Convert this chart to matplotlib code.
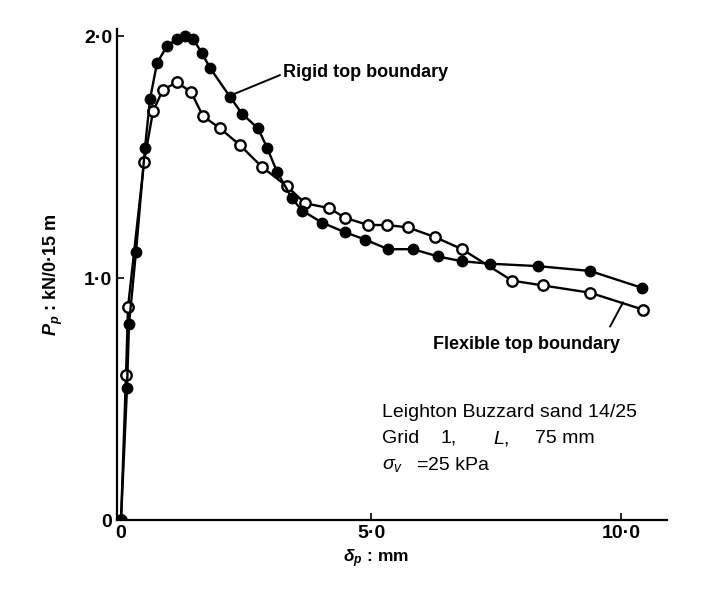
import matplotlib
matplotlib.use("Agg")
import matplotlib.pyplot as plt

plt.rcParams['font.family'] = ['Liberation Sans', 'DejaVu Sans']
plt.rcParams['mathtext.fontset'] = 'custom'
plt.rcParams['mathtext.it'] = 'Liberation Sans:italic'
plt.rcParams['mathtext.rm'] = 'Liberation Sans'
plt.rcParams['mathtext.bfit'] = 'Liberation Sans:italic:bold'

# rigid top boundary (filled markers)
rigid_x = [0, 0.12, 0.16, 0.30, 0.48, 0.58, 0.72, 0.92, 1.12, 1.28, 1.44, 1.62, 1.78,
           2.18, 2.42, 2.74, 2.92, 3.12, 3.42, 3.62, 4.02, 4.48, 4.88, 5.34, 5.84,
           6.34, 6.82, 7.38, 8.34, 9.38, 10.42]
rigid_y = [0, 0.545, 0.81, 1.11, 1.54, 1.74, 1.89, 1.96, 1.99, 2.0, 1.99, 1.93, 1.87,
           1.75, 1.68, 1.62, 1.54, 1.44, 1.33, 1.28, 1.23, 1.19, 1.16, 1.12, 1.12,
           1.09, 1.07, 1.06, 1.05, 1.03, 0.96]

# flexible top boundary (open markers)
flex_x = [0, 0.10, 0.14, 0.46, 0.64, 0.84, 1.12, 1.40, 1.64, 1.98, 2.38, 2.82, 3.32,
          3.68, 4.16, 4.48, 4.94, 5.32, 5.74, 6.28, 6.82, 7.82, 8.44, 9.38, 10.44]
flex_y = [0, 0.60, 0.88, 1.48, 1.69, 1.78, 1.81, 1.77, 1.67, 1.62, 1.55, 1.46, 1.38,
          1.31, 1.29, 1.25, 1.22, 1.22, 1.21, 1.17, 1.12, 0.99, 0.97, 0.94, 0.87]

xticks = [0, 5, 10]
xtick_labels = ['0', '5·0', '10·0']
yticks = [0, 1, 2]
ytick_labels = ['0', '1·0', '2·0']

fig = plt.figure(figsize=(7.07, 5.90), dpi=100)
ax = fig.add_axes([0.1655, 0.1186, 0.778, 0.832])

ax.plot(flex_x, flex_y, '-o', color='black', lw=1.7, ms=7.5, mfc='white', mec='black', mew=1.7)
ax.plot(rigid_x, rigid_y, '-o', color='black', lw=1.7, ms=7.5, mfc='black', mec='black')

ax.set_xlim(-0.08, 10.92)
ax.set_ylim(0, 2.03)
ax.spines['top'].set_visible(False)
ax.spines['right'].set_visible(False)
for s in ['left', 'bottom']:
    ax.spines[s].set_linewidth(1.6)
ax.set_xticks(xticks)
ax.set_xticklabels(xtick_labels, fontsize=14, fontweight='bold')
ax.set_yticks(yticks)
ax.set_yticklabels(ytick_labels, fontsize=14, fontweight='bold')
ax.tick_params(direction='in', length=5, width=1.2)

ax.set_xlabel(r'$\mathbfit{\delta}_\mathbfit{p}$ : mm', fontsize=12.5, fontweight='bold')
ax.xaxis.set_label_coords(0.47, -0.055)
ax.set_ylabel(r'$\mathbfit{P}_\mathbfit{p}$ : kN/0·15 m', fontsize=13, fontweight='bold')
ax.yaxis.set_label_coords(-0.095, 0.5)

# curve labels with leader lines
ax.text(3.24, 1.85, 'Rigid top boundary', fontsize=13, fontweight='bold', va='center')
ax.annotate('', xy=(2.24, 1.76), xytext=(3.18, 1.84),
            arrowprops=dict(arrowstyle='-', color='black', lw=1.4, shrinkA=0, shrinkB=0))
ax.text(6.24, 0.727, 'Flexible top boundary', fontsize=13, fontweight='bold', va='center')
ax.annotate('', xy=(10.04, 0.90), xytext=(9.78, 0.80),
            arrowprops=dict(arrowstyle='-', color='black', lw=1.4, shrinkA=0, shrinkB=0))

# test conditions
ax.text(5.22, 0.446, 'Leighton Buzzard sand 14/25', fontsize=14, va='center')
ax.text(5.22, 0.339, 'Grid', fontsize=14, va='center')
ax.text(6.38, 0.339, '1,', fontsize=14, va='center')
ax.text(7.44, 0.339, '$L$,', fontsize=14, va='center')
ax.text(8.28, 0.339, '75 mm', fontsize=14, va='center')
ax.text(5.22, 0.227, r'$\sigma_v$', fontsize=14, va='center')
ax.text(5.92, 0.227, '=', fontsize=14, va='center')
ax.text(6.14, 0.227, '25 kPa', fontsize=14, va='center')

fig.savefig('out.png', dpi=100)
